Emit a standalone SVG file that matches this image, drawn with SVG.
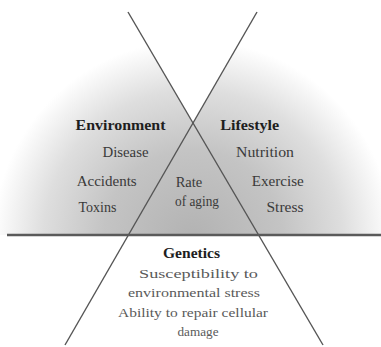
<svg xmlns="http://www.w3.org/2000/svg" width="381" height="347" viewBox="0 0 381 347">
  <defs>
    <radialGradient id="shade" gradientUnits="userSpaceOnUse" cx="193" cy="240" r="200">
      <stop offset="0" stop-color="#b2b2b2"/>
      <stop offset="0.45" stop-color="#c4c4c4"/>
      <stop offset="0.75" stop-color="#dedede"/>
      <stop offset="1" stop-color="#ffffff"/>
    </radialGradient>
    <style>
      .ln { stroke: #555; stroke-width: 1.4; fill: none; }
      .base { stroke: #5a5a5a; stroke-width: 2.5; fill: none; }
      .hd { font-family: "Liberation Serif", "Times New Roman", serif; font-weight: bold; font-size: 15.5px; fill: #1e1e1e; text-anchor: middle; }
      .tx { font-family: "Liberation Serif", "Times New Roman", serif; font-size: 14.5px; fill: #3a3a3a; text-anchor: middle; }
      .gt { font-family: "Liberation Serif", "Times New Roman", serif; font-size: 13.5px; fill: #5a5a5a; text-anchor: middle; }
    </style>
  </defs>
  <rect width="381" height="347" fill="#ffffff"/>
  <polygon points="0,235 0,12 128,12 193,123 257,12 381,12 381,235" fill="url(#shade)"/>

  <g id="connectors">
    <line class="ln" x1="128" y1="12" x2="323" y2="345"/>
    <line class="ln" x1="257" y1="12" x2="65" y2="345"/>
    <line class="base" x1="7" y1="235" x2="381" y2="235"/>
  </g>

  <g id="environment">
    <text class="hd" x="120.5" y="130" textLength="90" lengthAdjust="spacingAndGlyphs">Environment</text>
    <text class="tx" x="125.5" y="157" textLength="46" lengthAdjust="spacingAndGlyphs">Disease</text>
    <text class="tx" x="106.7" y="186" textLength="60" lengthAdjust="spacingAndGlyphs">Accidents</text>
    <text class="tx" x="97.5" y="212" textLength="38" lengthAdjust="spacingAndGlyphs">Toxins</text>
  </g>

  <g id="lifestyle">
    <text class="hd" x="249.7" y="130" textLength="59" lengthAdjust="spacingAndGlyphs">Lifestyle</text>
    <text class="tx" x="265" y="157" textLength="58" lengthAdjust="spacingAndGlyphs">Nutrition</text>
    <text class="tx" x="277.8" y="186" textLength="52" lengthAdjust="spacingAndGlyphs">Exercise</text>
    <text class="tx" x="285" y="212" textLength="37" lengthAdjust="spacingAndGlyphs">Stress</text>
  </g>

  <g id="rate-of-aging">
    <text class="tx" x="189" y="187">Rate</text>
    <text class="tx" x="197" y="206" textLength="44" lengthAdjust="spacingAndGlyphs">of aging</text>
  </g>

  <g id="genetics">
    <text class="hd" x="191.5" y="258" textLength="57" lengthAdjust="spacingAndGlyphs">Genetics</text>
    <text class="gt" x="198.5" y="278" textLength="119" lengthAdjust="spacingAndGlyphs">Susceptibility to</text>
    <text class="gt" x="194" y="297" textLength="132" lengthAdjust="spacingAndGlyphs">environmental stress</text>
    <text class="gt" x="193" y="317" textLength="150" lengthAdjust="spacingAndGlyphs">Ability to repair cellular</text>
    <text class="gt" x="198" y="336" textLength="41" lengthAdjust="spacingAndGlyphs">damage</text>
  </g>
</svg>
